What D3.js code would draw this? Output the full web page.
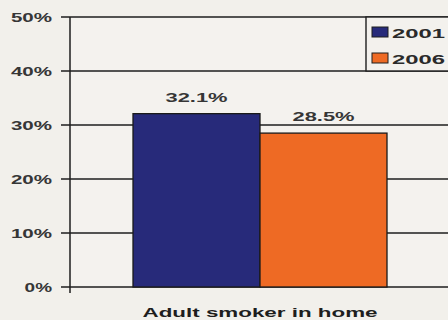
<!DOCTYPE html>
<html><head><meta charset="utf-8">
<script src="https://cdn.jsdelivr.net/npm/d3@7"></script>
<style>body{margin:0;background:#f2f0eb;}svg{display:block;font-family:"Liberation Sans",Arial,sans-serif;}</style>
</head><body>
<script>
const categories = ["Adult smoker in home"];
const seriesNames = ["2001", "2006"];
const values2001 = [32.1];
const values2006 = [28.5];
const yTicks = [0, 10, 20, 30, 40, 50];
const colors = ["#272a7a", "#ee6a24"];

(function () {
const W = 448, H = 320;
const svg = d3.select("body").append("svg").attr("width", W).attr("height", H);
svg.append("rect").attr("width", W).attr("height", H).attr("fill", "#f2f0eb");

const mLeft = 70, mRight = 448, mTop = 17, mBottom = 287;
const y = d3.scaleLinear().domain([0, 50]).range([mBottom, mTop]);
const x0 = d3.scaleBand().domain(categories).range([133, 387]).padding(0);
const x1 = d3.scaleBand().domain(seriesNames).range([0, x0.bandwidth()]);

svg.append("rect").attr("x", mLeft).attr("y", mTop).attr("width", mRight - mLeft).attr("height", mBottom - mTop)
  .attr("fill", "#f4f2ee");

svg.append("g").selectAll("line").data(yTicks).join("line")
  .attr("x1", mLeft - 9).attr("x2", mRight)
  .attr("y1", d => y(d)).attr("y2", d => y(d))
  .attr("stroke", "#1e1e1e").attr("stroke-width", 1.5);

svg.append("line").attr("x1", mLeft).attr("x2", mLeft).attr("y1", mTop).attr("y2", mBottom + 6)
  .attr("stroke", "#1e1e1e").attr("stroke-width", 1.5);

svg.append("g").selectAll("text").data(yTicks).join("text")
  .attr("x", 52).attr("y", d => y(d) + 4.5)
  .attr("text-anchor", "end").attr("font-size", 12).attr("font-weight", "bold")
  .attr("fill", "#363636").attr("textLength", d => (d + "%").length * 13.7)
  .attr("lengthAdjust", "spacingAndGlyphs").text(d => d + "%");

const data = categories.map((c, i) => ({cat: c, vals: [values2001[i], values2006[i]]}));
const g = svg.append("g");
data.forEach(d => {
  d.vals.forEach((v, j) => {
    const xx = x0(d.cat) + x1(seriesNames[j]);
    g.append("rect").attr("x", xx).attr("y", y(v)).attr("width", x1.bandwidth()).attr("height", y(0) - y(v))
      .attr("fill", colors[j]).attr("stroke", "#1a1a1a").attr("stroke-width", 1.3);
    g.append("text").attr("x", xx + x1.bandwidth() / 2).attr("y", y(v) - 12)
      .attr("text-anchor", "middle").attr("font-size", 12).attr("font-weight", "bold")
      .attr("fill", "#363636").attr("textLength", 62).attr("lengthAdjust", "spacingAndGlyphs")
      .text(v.toFixed(1) + "%");
  });
  svg.append("text").attr("x", x0(d.cat) + x0.bandwidth() / 2).attr("y", 317)
    .attr("text-anchor", "middle").attr("font-size", 13.5).attr("font-weight", "bold")
    .attr("fill", "#1e1e1e").attr("textLength", 235).attr("lengthAdjust", "spacingAndGlyphs").text(d.cat);
});

const lg = svg.append("g");
lg.append("rect").attr("x", 366).attr("y", mTop).attr("width", 90).attr("height", y(40) - mTop)
  .attr("fill", "#f3f1ed").attr("stroke", "#1e1e1e").attr("stroke-width", 1.4);
seriesNames.forEach((s, i) => {
  const yy = 27 + i * 26;
  lg.append("rect").attr("x", 372).attr("y", yy).attr("width", 16).attr("height", 10)
    .attr("fill", colors[i]).attr("stroke", "#1e1e1e").attr("stroke-width", 1);
  lg.append("text").attr("x", 392).attr("y", yy + 10.5).attr("font-size", 13).attr("font-weight", "bold")
    .attr("fill", "#2a2a2a").attr("textLength", 53).attr("lengthAdjust", "spacingAndGlyphs").text(s);
});
})();
</script>
</body></html>
